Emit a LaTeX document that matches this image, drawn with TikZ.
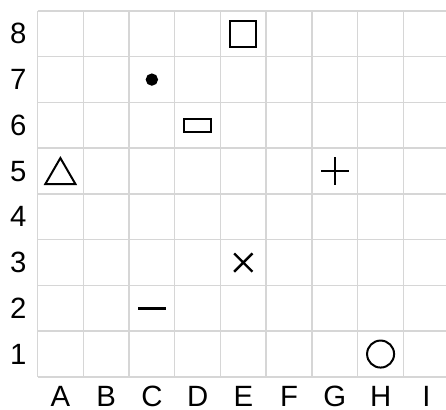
\documentclass[tikz,border=0pt]{standalone}
\usepackage{fontspec}
\setmainfont{Liberation Sans}
\usepackage{tikz}
\usetikzlibrary{calc}
\definecolor{GridGray}{RGB}{214, 214, 214}

\begin{document}
\begin{tikzpicture}[x=1.206cm, y=1.206cm, font=\fontsize{22}{26}\selectfont, gl/.style={draw=GridGray, line width=1.1pt}, mk/.style={draw=black, line width=1.5pt, inner sep=0pt}, bar/.style={draw=black, line width=1.8pt}, lb/.style={inner sep=0pt, anchor=center}]
\useasboundingbox (-0.82,-0.721) rectangle (8.93,8.24);
% grid
\foreach \i in {0,...,8} \draw[gl] (\i,0) -- (\i,8);
\foreach \j in {0,...,8} \draw[gl] (0,\j) -- (8.93,\j);
% labels
\foreach \r in {1,...,8} \node[lb] (row\r) at (-0.42,\r-0.5) {\r};
\foreach \c [count=\k] in {A,...,I} \node[lb] (col\c) at (\k-0.5,-0.43) {\c};
% markers
\node[mk, minimum width=0.687cm, minimum height=0.687cm] (sqE8) at (4.5,7.5) {};
\node[mk, circle, fill=black, minimum size=0.27cm] (dotC7) at (2.5,6.5) {};
\node[mk, minimum width=0.712cm, minimum height=0.343cm] (rectD6) at (3.5,5.5) {};
\node[mk, circle, minimum size=0.712cm] (circH1) at (7.5,0.5) {};
\coordinate (triA5) at (0.5,4.5);
\draw[mk] ($(triA5)+(-0.33,-0.285)$) -- ($(triA5)+(0.33,-0.285)$) -- ($(triA5)+(0,0.285)$) -- cycle;
\coordinate (plusG5) at (6.5,4.5);
\draw[bar] ($(plusG5)+(-0.3,0)$) -- ($(plusG5)+(0.3,0)$) ($(plusG5)+(0,-0.3)$) -- ($(plusG5)+(0,0.3)$);
\coordinate (crossE3) at (4.5,2.5);
\draw[bar] ($(crossE3)+(-0.2,-0.2)$) -- ($(crossE3)+(0.2,0.2)$) ($(crossE3)+(-0.2,0.2)$) -- ($(crossE3)+(0.2,-0.2)$);
\coordinate (minusC2) at (2.5,1.5);
\draw[bar] ($(minusC2)+(-0.3,0)$) -- ($(minusC2)+(0.3,0)$);
\end{tikzpicture}
\end{document}
